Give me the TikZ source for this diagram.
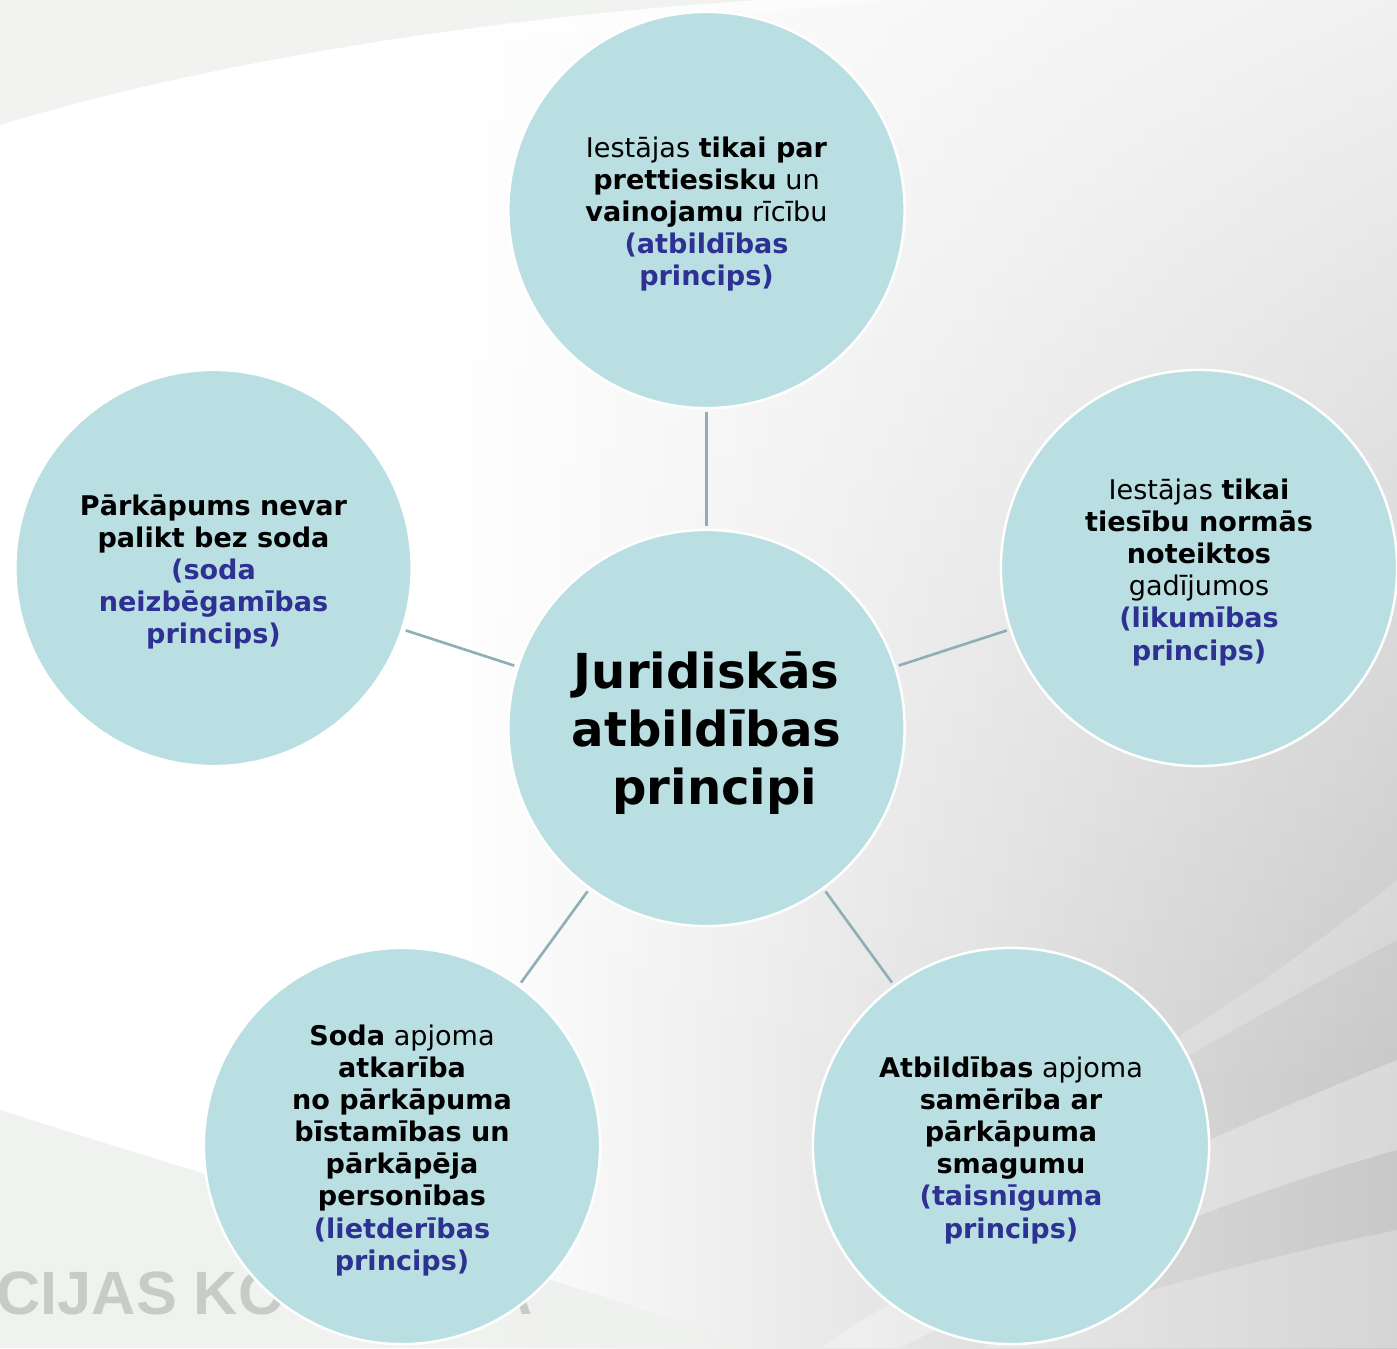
\documentclass[tikz,border=0pt]{standalone}
\usepackage{fontspec}
\usetikzlibrary{fadings}
\setmainfont{DejaVu Sans}
\newfontfamily\wmfont{Liberation Sans}
\definecolor{circfill}{HTML}{BADFE2}
\definecolor{linkcol}{HTML}{8DB0B6}
\definecolor{blu}{HTML}{2E3192}
\definecolor{bggrey}{HTML}{EFF1EE}
\definecolor{bgdark}{HTML}{C8C8C8}
\definecolor{wmcol}{HTML}{C9CBC8}
\newcommand\bluetxt[1]{\textcolor{blu}{\textbf{#1}}}
\newcommand\topstrut{\rule{0pt}{8.2pt}}
\newcommand\hubstrut{\rule{0pt}{13.3pt}}
\begin{document}
\begin{tikzpicture}[x=0.01cm,y=-0.01cm,
  principle/.style={circle, minimum size=3.96cm, inner sep=0pt, fill=circfill,
    draw=white, line width=0.7pt, align=center,
    font=\fontsize{7.7}{9.15}\selectfont},
  hub/.style={principle, font=\fontsize{13.7}{16.6}\selectfont\bfseries},
  link/.style={draw=linkcol, line width=0.75pt, shorten <=0.8pt, shorten >=0.8pt},
  watermark/.style={font=\wmfont\bfseries\fontsize{17.4}{20}\selectfont, text=wmcol, inner sep=0pt, anchor=base west}]
\useasboundingbox (0,0) rectangle (1397,1348);
\clip (0,0) rectangle (1397,1348);
% background
\fill[white] (0,0) rectangle (1397,1348);
\shade[left color=white, right color=bgdark] (450,0) rectangle (1397,1348);
\fill[white, fill opacity=0.75, path fading=south] (0,0) rectangle (1397,1100);
\fill[bggrey, opacity=0.8] (0,0) -- (760,0) .. controls (450,20) and (180,70) .. (0,125) -- cycle;
\fill[white, opacity=0.5] (0,125) .. controls (180,70) and (450,20) .. (760,0) -- (900,0) .. controls (500,30) and (200,90) .. (0,150) -- cycle;
\fill[bggrey, opacity=0.9] (0,1110) .. controls (250,1190) and (500,1260) .. (760,1348) -- (0,1348) -- cycle;
\fill[white, opacity=0.3] (1397,1060) .. controls (1150,1160) and (950,1260) .. (820,1348) -- (900,1348) .. controls (1050,1270) and (1250,1190) .. (1397,1150) -- cycle;
\fill[white, opacity=0.25] (1397,1230) .. controls (1200,1270) and (1050,1320) .. (980,1348) -- (1397,1348) -- cycle;
\fill[white, opacity=0.2] (1397,880) .. controls (1250,1000) and (1050,1120) .. (900,1200) -- (930,1200) .. controls (1100,1110) and (1280,1000) .. (1397,940) -- cycle;
% watermark
\node[watermark] (wm1) at (-4,1314) {CIJAS KO};
\node[watermark] (wm2) at (488,1314) {A};
% nodes
\node[hub] (c) at (706.5,728) {\hubstrut Juridiskās\\atbildības\\\ principi};
\node[principle] (top) at (706.5,210) {\topstrut Iestājas \textbf{tikai par}\\\textbf{prettiesisku} un\\\textbf{vainojamu} rīcību\\\bluetxt{(atbildības}\\\bluetxt{princips)}};
\node[principle] (right) at (1199,568) {\topstrut Iestājas \textbf{tikai}\\\textbf{tiesību normās}\\\textbf{noteiktos}\\gadījumos\\\bluetxt{(likumības}\\\bluetxt{princips)}};
\node[principle] (left) at (213.5,568) {\topstrut\textbf{Pārkāpums nevar}\\\textbf{palikt bez soda}\\\bluetxt{(soda}\\\bluetxt{neizbēgamības}\\\bluetxt{princips)}};
\node[principle] (bl) at (402,1146) {\topstrut\textbf{Soda} apjoma\\\textbf{atkarība}\\\textbf{no pārkāpuma}\\\textbf{bīstamības un}\\\textbf{pārkāpēja}\\\textbf{personības}\\\bluetxt{(lietderības}\\\bluetxt{princips)}};
\node[principle] (br) at (1011,1146) {\topstrut\textbf{Atbildības} apjoma\\\textbf{samērība ar}\\\textbf{pārkāpuma}\\\textbf{smagumu}\\\bluetxt{(taisnīguma}\\\bluetxt{princips)}};
% links
\draw[link] (c) -- (top);
\draw[link] (c) -- (right);
\draw[link] (c) -- (left);
\draw[link] (c) -- (bl);
\draw[link] (c) -- (br);
\end{tikzpicture}
\end{document}
